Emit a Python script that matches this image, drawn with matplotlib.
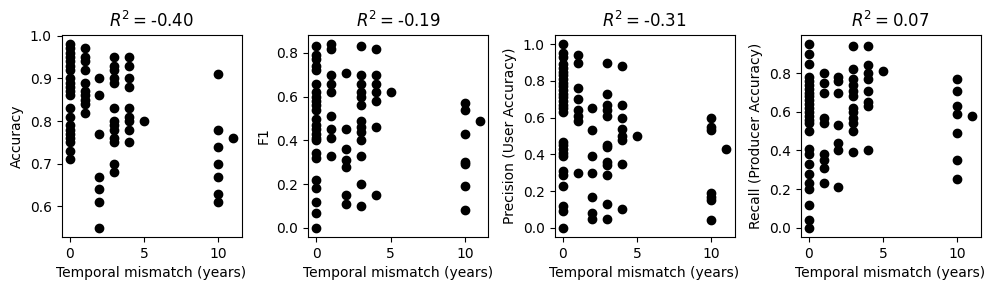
import matplotlib
matplotlib.use("Agg")
import matplotlib.pyplot as plt

xlabel = "Temporal mismatch (years)"
ylabels = ["Accuracy", "F1", "Precision (User Accuracy)", "Recall (Producer Accuracy)"]
r2_values = [-0.40, -0.19, -0.31, 0.07]

# Accuracy panel
acc_x0 = [0.98, 0.97, 0.96, 0.95, 0.94, 0.93, 0.92, 0.90, 0.89, 0.88, 0.87, 0.86,
          0.83, 0.81, 0.79, 0.78, 0.77, 0.76, 0.75, 0.73, 0.71]
acc_x1 = [0.97, 0.95, 0.94, 0.92, 0.89, 0.87, 0.86, 0.85, 0.84, 0.82]
acc_x2 = [0.90, 0.86, 0.77, 0.67, 0.64, 0.61, 0.55]
acc_x3 = [0.95, 0.93, 0.92, 0.90, 0.89, 0.83, 0.80, 0.79, 0.78, 0.76, 0.75, 0.70, 0.68]
acc_x4 = [0.95, 0.93, 0.90, 0.88, 0.83, 0.81, 0.80, 0.78, 0.75]
acc_x5 = [0.80]
acc_x10 = [0.91, 0.78, 0.74, 0.70, 0.67, 0.63, 0.61]
acc_x11 = [0.76]

# F1 panel
f1_x0 = [0.83, 0.79, 0.77, 0.74, 0.72, 0.66, 0.62, 0.60, 0.58, 0.56, 0.54, 0.50,
         0.47, 0.45, 0.43, 0.41, 0.40, 0.34, 0.32, 0.22, 0.18, 0.12, 0.07, 0.0]
f1_x1 = [0.84, 0.82, 0.70, 0.66, 0.62, 0.51, 0.45, 0.41, 0.33]
f1_x2 = [0.71, 0.45, 0.36, 0.31, 0.28, 0.15, 0.11]
f1_x3 = [0.83, 0.70, 0.66, 0.62, 0.60, 0.56, 0.49, 0.46, 0.44, 0.40, 0.33, 0.20, 0.10]
f1_x4 = [0.82, 0.70, 0.66, 0.62, 0.58, 0.46, 0.15]
f1_x5 = [0.62]
f1_x10 = [0.57, 0.54, 0.43, 0.30, 0.29, 0.19, 0.08]
f1_x11 = [0.49]

# Precision panel
prec_x0 = [1.0, 0.95, 0.93, 0.89, 0.87, 0.85, 0.83, 0.81, 0.79, 0.77, 0.75, 0.73,
           0.71, 0.69, 0.67, 0.65, 0.63, 0.47, 0.45, 0.43, 0.41, 0.39, 0.31, 0.29,
           0.23, 0.12, 0.09, 0.0]
prec_x1 = [0.94, 0.90, 0.76, 0.70, 0.64, 0.61, 0.58, 0.30]
prec_x2 = [0.65, 0.53, 0.39, 0.30, 0.17, 0.08, 0.05]
prec_x3 = [0.90, 0.73, 0.67, 0.64, 0.61, 0.45, 0.44, 0.36, 0.34, 0.29, 0.13, 0.05]
prec_x4 = [0.88, 0.67, 0.60, 0.54, 0.50, 0.48, 0.35, 0.10]
prec_x5 = [0.50]
prec_x10 = [0.60, 0.55, 0.53, 0.19, 0.17, 0.15, 0.04]
prec_x11 = [0.43]

# Recall panel
rec_x0 = [0.95, 0.90, 0.85, 0.78, 0.76, 0.74, 0.72, 0.70, 0.68, 0.66, 0.64, 0.62,
          0.60, 0.58, 0.56, 0.54, 0.50, 0.41, 0.38, 0.33, 0.28, 0.23, 0.20, 0.12,
          0.04, 0.0]
rec_x1 = [0.80, 0.75, 0.70, 0.57, 0.54, 0.38, 0.35, 0.31, 0.23]
rec_x2 = [0.78, 0.76, 0.70, 0.53, 0.44, 0.40, 0.21]
rec_x3 = [0.94, 0.82, 0.77, 0.74, 0.71, 0.68, 0.62, 0.60, 0.57, 0.54, 0.50, 0.39]
rec_x4 = [0.94, 0.84, 0.80, 0.77, 0.71, 0.65, 0.63, 0.40]
rec_x5 = [0.81]
rec_x10 = [0.77, 0.71, 0.63, 0.59, 0.49, 0.35, 0.25]
rec_x11 = [0.58]

mismatch_years = [0, 1, 2, 3, 4, 5, 10, 11]
panels = [
    [acc_x0, acc_x1, acc_x2, acc_x3, acc_x4, acc_x5, acc_x10, acc_x11],
    [f1_x0, f1_x1, f1_x2, f1_x3, f1_x4, f1_x5, f1_x10, f1_x11],
    [prec_x0, prec_x1, prec_x2, prec_x3, prec_x4, prec_x5, prec_x10, prec_x11],
    [rec_x0, rec_x1, rec_x2, rec_x3, rec_x4, rec_x5, rec_x10, rec_x11],
]

fig = plt.figure(figsize=(9.9, 2.9), dpi=100)
W, H = 990, 290
lefts = [61.5, 308, 554.5, 800.5]
width = 180
bottom_px, top_px = 237, 35
for i, groups in enumerate(panels):
    ax = fig.add_axes([lefts[i] / W, 1 - bottom_px / H, width / W, (bottom_px - top_px) / H])
    xs, ys = [], []
    for yr, vals in zip(mismatch_years, groups):
        xs += [yr] * len(vals)
        ys += vals
    ax.scatter(xs, ys, color="black", s=36)
    ax.set_xlabel(xlabel)
    ax.set_ylabel(ylabels[i])
    ax.set_title(f"$R^2 = ${r2_values[i]:.2f}")
    ax.set_xticks([0, 5, 10])

fig.savefig("out.png", dpi=100)
